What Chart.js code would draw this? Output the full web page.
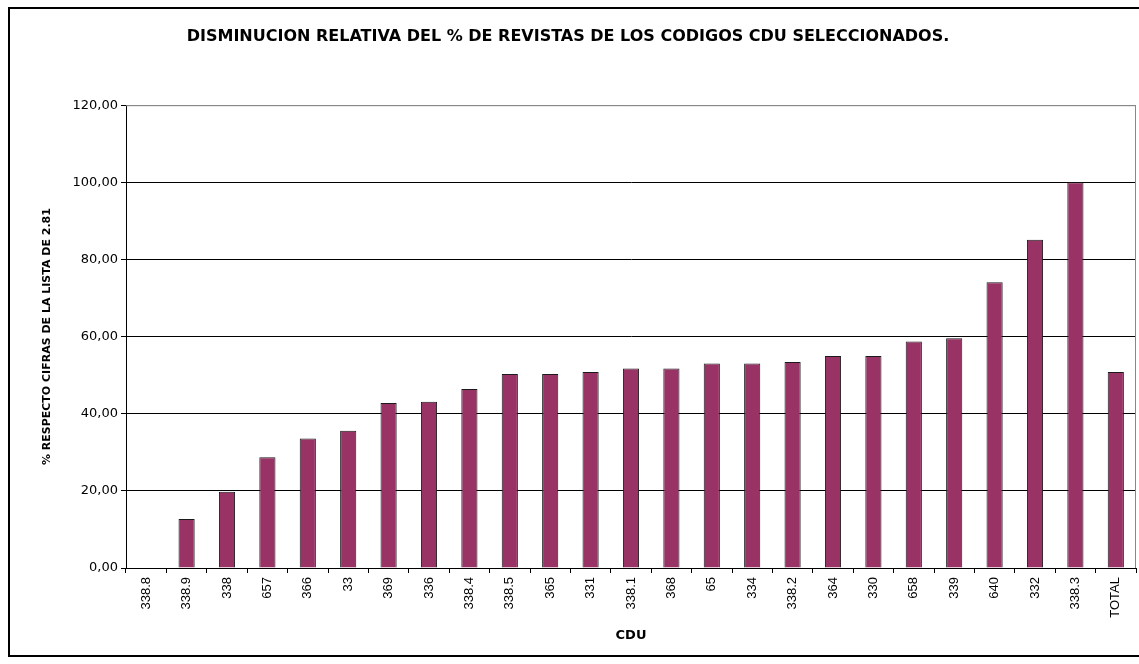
<!DOCTYPE html>
<html>
<head>
<meta charset="utf-8">
<script src="https://cdn.jsdelivr.net/npm/chart.js@4"></script>
<style>
  html, body { margin: 0; padding: 0; background: #fff; }
  #wrap { width: 1139px; height: 664px; }
</style>
</head>
<body>
<div id="wrap"><canvas id="cdu-chart" width="1139" height="664"></canvas></div>
<script>
// categories (CDU codes) and relative decrease values
const cduLabels = ['338.8', '338.9', '338', '657', '366', '33', '369', '336', '338.4', '338.5',
  '365', '331', '338.1', '368', '65', '334', '338.2', '364', '330', '658', '339', '640', '332',
  '338.3', 'TOTAL'];
const pctValues = [0, 12.7, 19.8, 28.7, 33.6, 35.6, 42.8, 43.1, 46.4, 50.3,
  50.3, 50.8, 51.7, 51.7, 53.0, 53.0, 53.4, 55.0, 55.0, 58.7, 59.6, 74.1, 85.1,
  100, 50.8];
const yTicks = [0, 20, 40, 60, 80, 100, 120];

const chartTitle = 'DISMINUCION RELATIVA DEL % DE REVISTAS DE LOS CODIGOS CDU SELECCIONADOS.';
const yTitle = '% RESPECTO CIFRAS DE LA LISTA DE 2.81';
const xTitle = 'CDU';

const ARIAL = 'Arial, "Liberation Sans", sans-serif';
const WIDE = '"DejaVu Sans", Verdana, sans-serif';

// outer frame + grey plot-area border, like the Excel original
const framePlugin = {
  id: 'frame',
  afterDraw(chart) {
    const ctx = chart.ctx;
    const a = chart.chartArea;
    ctx.save();
    ctx.strokeStyle = '#888';
    ctx.lineWidth = 1;
    ctx.beginPath();
    ctx.moveTo(a.left, a.top + 0.5);
    ctx.lineTo(a.right - 0.5, a.top + 0.5);
    ctx.lineTo(a.right - 0.5, a.bottom);
    ctx.stroke();
    ctx.strokeStyle = '#000';
    ctx.lineWidth = 2;
    ctx.strokeRect(9, 8, 1140, 648);
    ctx.restore();
  }
};

const ctx = document.getElementById('cdu-chart').getContext('2d');
const cduChart = new Chart(ctx, {
  type: 'bar',
  data: {
    labels: cduLabels,
    datasets: [
      {
        label: 'CDU',
        data: pctValues,
        backgroundColor: '#993366',
        borderColor: '#1a1a1a',
        borderWidth: 1,
        barPercentage: 0.4,
        categoryPercentage: 1.0,
      },
    ],
  },
  options: {
    responsive: false,
    animation: false,
    layout: {
      padding: { left: 0, right: 3, top: 0, bottom: 0 },
    },
    plugins: {
      legend: { display: false },
      tooltip: { enabled: false },
      title: {
        display: true,
        text: chartTitle,
        color: '#000',
        font: { family: WIDE, size: 16, weight: 'bold' },
        padding: { top: 27, bottom: 59 },
      },
    },
    scales: {
      x: {
        offset: true,
        grid: {
          offset: true,
          drawOnChartArea: false,
          drawTicks: true,
          tickLength: 5,
          color: '#000',
        },
        border: { color: '#000', width: 1 },
        ticks: {
          color: '#000',
          font: { family: ARIAL, size: 13 },
          minRotation: 90,
          maxRotation: 90,
          autoSkip: false,
          padding: 4,
        },
        title: {
          display: true,
          text: xTitle,
          color: '#000',
          font: { family: WIDE, size: 13, weight: 'bold' },
          padding: { top: 0, bottom: 21 },
        },
        afterFit(scale) {
          scale.height = 96;
        },
      },
      y: {
        min: 0,
        max: 120,
        afterBuildTicks(scale) {
          scale.ticks = yTicks.map(v => ({ value: v }));
        },
        grid: {
          color: ctx => (ctx.tick && ctx.tick.value === 120 ? '#888' : '#000'),
          tickColor: '#000',
          tickLength: 5,
        },
        border: { color: '#000', width: 1 },
        ticks: {
          color: '#000',
          font: { family: WIDE, size: 13 },
          padding: 3,
          callback: v => v.toFixed(2).replace('.', ','),
        },
        title: {
          display: true,
          text: yTitle,
          color: '#000',
          font: { family: WIDE, size: 11, weight: 'bold' },
          padding: { top: 41, bottom: 0 },
        },
        afterFit(scale) {
          scale.width = 126;
        },
      },
    },
  },
  plugins: [framePlugin],
});
</script>
</body>
</html>
